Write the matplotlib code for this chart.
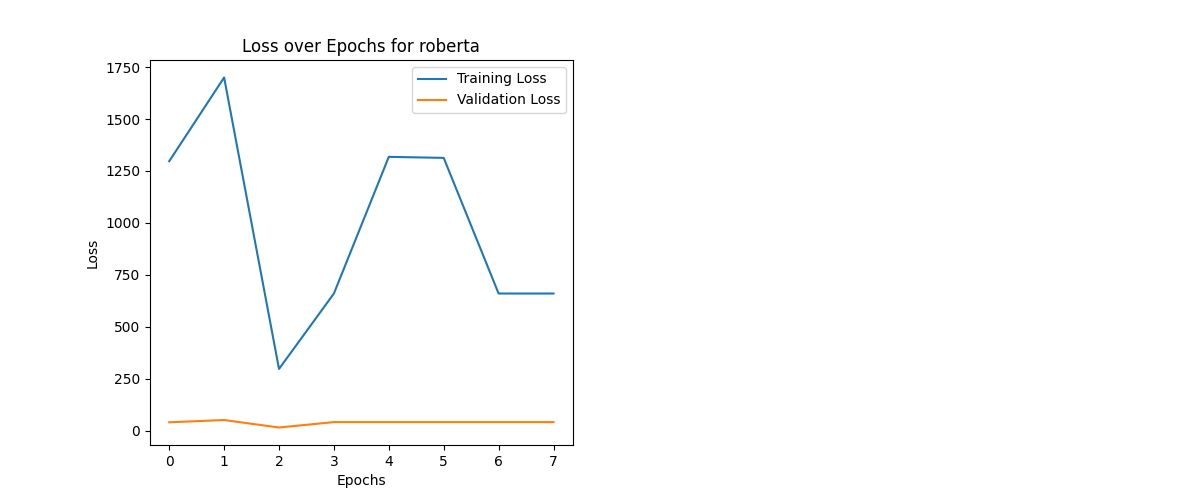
import matplotlib
matplotlib.use("Agg")
import matplotlib.pyplot as plt

epochs = [0, 1, 2, 3, 4, 5, 6, 7]
train_loss = [1297, 1700, 297, 660, 1318, 1313, 660, 660]
val_loss = [40, 51, 15, 41, 41, 41, 41, 41]

fig = plt.figure(figsize=(12, 5), dpi=100)
ax = fig.add_subplot(1, 2, 1)
ax.plot(epochs, train_loss, label="Training Loss")
ax.plot(epochs, val_loss, label="Validation Loss")
ax.set_title("Loss over Epochs for roberta")
ax.set_xlabel("Epochs")
ax.set_ylabel("Loss")
ax.legend()
fig.savefig("out.png")
